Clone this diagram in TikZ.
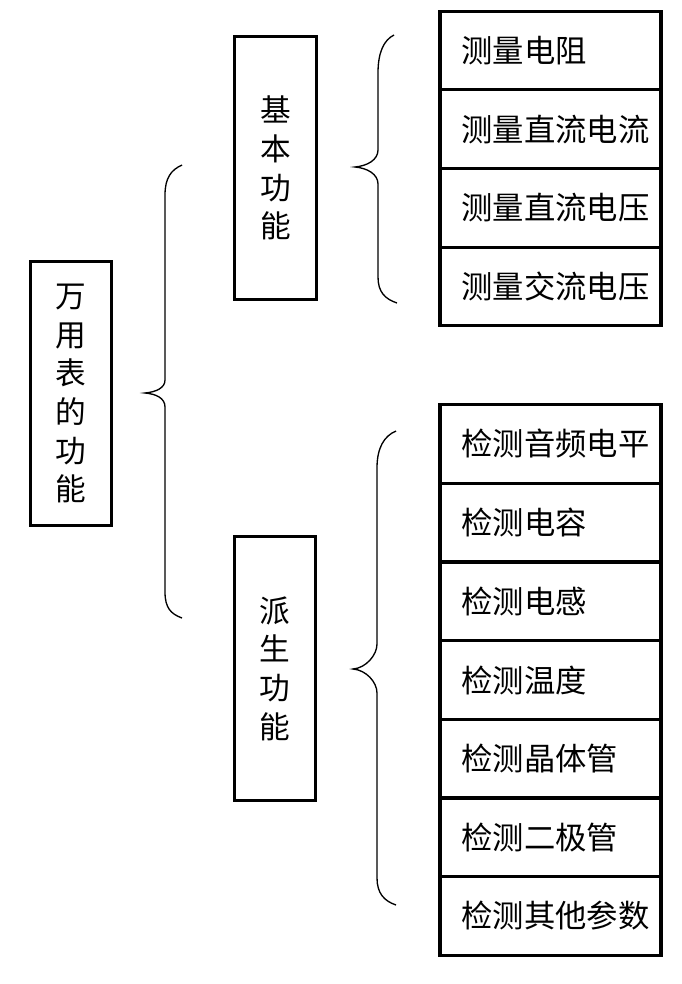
\documentclass[tikz,border=0pt]{standalone}
\usepackage{fontspec}
\setmainfont{Noto Sans CJK SC}
\usepackage{tikz}
\usetikzlibrary{positioning}
\hfuzz=20pt

\begin{document}
\begin{tikzpicture}[x=0.75pt,y=-0.75pt,node distance=59pt]
  \tikzstyle{group}=[rectangle,draw=black,line width=2.3pt,minimum width=61pt,
        minimum height=197.5pt,align=center,font=\fontsize{23}{29}\selectfont]
  \tikzstyle{item}=[rectangle,draw=black,line width=2.3pt,minimum height=59pt,
        inner xsep=16pt,text width=133.75pt,align=left,font=\fontsize{23.5}{27}\selectfont]
  \tikzstyle{brace}=[draw=black,line width=1pt]
  \useasboundingbox (0,0) rectangle (681,984);
    \node [group] (meter) at (71,393.5) {万\\用\\表\\的\\功\\能};
    \node [group] (basic) at (275.5,168) {基\\本\\功\\能};
    \node [group] (extra) at (275,668.5) {派\\生\\功\\能};
    % basic functions
    \node [item] (b1) at (550.5,50.5) {测量电阻};
    \node [item] (b2) [below of=b1] {测量直流电流};
    \node [item] (b3) [below of=b2] {测量直流电压};
    \node [item] (b4) [below of=b3] {测量交流电压};
    % derived functions
    \node [item] (e1) at (550.5,444) {检测音频电平};
    \node [item] (e2) [below of=e1] {检测电容};
    \node [item] (e3) [below of=e2] {检测电感};
    \node [item] (e4) [below of=e3] {检测温度};
    \node [item] (e5) [below of=e4] {检测晶体管};
    \node [item] (e6) [below of=e5] {检测二极管};
    \node [item] (e7) [below of=e6] {检测其他参数};
    % braces
    \draw [brace] (182,165) .. controls (171,170) and (165,178) .. (165,195) -- (165,380)
        .. controls (165,388) and (156,392) .. (145,393) .. controls (156,394) and (165,398) .. (165,407)
        -- (165,592) .. controls (165,608) and (171,614) .. (182,618);
    \draw [brace] (394,35) .. controls (384,40) and (378,52) .. (378,73) -- (378,150)
        .. controls (378,160) and (367,166) .. (355,167) .. controls (367,168) and (378,174) .. (378,184)
        -- (378,277) .. controls (378,292) and (385,299) .. (397,303);
    \draw [brace] (396,431) .. controls (384,436) and (377,448) .. (377,468) -- (377,644)
        .. controls (377,655) and (366,668) .. (353,669) .. controls (366,670) and (377,682) .. (377,693)
        -- (377,878) .. controls (377,893) and (384,901) .. (396,905);
\end{tikzpicture}
\end{document}
